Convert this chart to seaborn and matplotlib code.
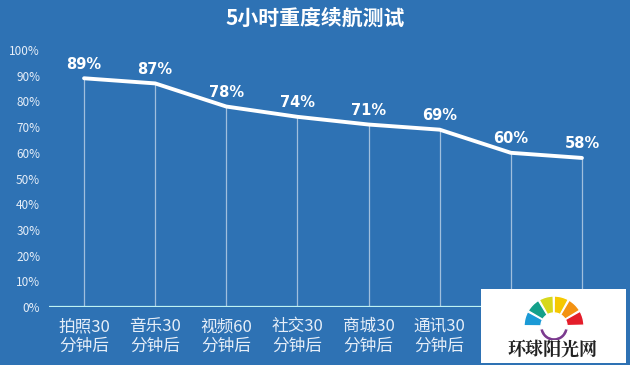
import numpy as np
import pandas as pd
import seaborn as sns
import matplotlib.pyplot as plt
from matplotlib.patches import Rectangle, Wedge

# the last two category names are hidden behind the watermark in the source
categories = ["拍照30\n分钟后", "音乐30\n分钟后", "视频60\n分钟后", "社交30\n分钟后",
              "商城30\n分钟后", "通讯30\n分钟后", "", ""]
battery = [89, 87, 78, 74, 71, 69, 60, 58]
yticks = [0, 10, 20, 30, 40, 50, 60, 70, 80, 90, 100]

bg = "#2e72b4"
sns.set_style("dark")
plt.rcParams['font.family'] = ['Noto Sans CJK SC', 'DejaVu Sans']

df = pd.DataFrame({"pos": np.arange(len(categories)), "battery": battery})

fig = plt.figure(figsize=(6.3, 3.65), dpi=100, facecolor=bg)
ax = fig.add_axes([48.5 / 630, 58 / 365, 569 / 630, 257 / 365])
ax.set_facecolor(bg)

# drop lines from points to the axis
ax.vlines(df["pos"], 0, df["battery"], color="white", alpha=0.55, lw=0.9, zorder=2)
sns.lineplot(data=df, x="pos", y="battery", ax=ax, color="white", lw=2.8, zorder=3)

for x, v in zip(df["pos"], battery):
    ax.text(x, v + 2.6, f"{v}%", color="white", fontsize=10.5, fontweight="bold",
            ha="center", va="bottom", family="DejaVu Sans")

ax.axhline(0, color="#bff3f3", lw=1.6, zorder=4)
ax.set_xlim(-0.5, 7.5)
ax.set_ylim(0, 100)
ax.set_yticks(yticks)
ax.set_yticklabels([f"{t}%" for t in yticks], color="#e6eef8", fontsize=8.5)
ax.set_xticks(df["pos"])
ax.set_xticklabels(categories, color="#e6eef8", fontsize=12, linespacing=1.2)
ax.tick_params(length=0, pad=6)
ax.tick_params(axis="x", pad=8)
ax.set_xlabel("")
ax.set_ylabel("")
ax.grid(False)
for s in ax.spines.values():
    s.set_visible(False)

fig.text(0.5, 1 - 18 / 365, "5小时重度续航测试", color="white", fontsize=15,
         fontweight="bold", ha="center", va="center")

# watermark box
fig.patches.append(Rectangle((481 / 630, 2 / 365), 145 / 630, 74 / 365, transform=fig.transFigure,
                             facecolor="white", edgecolor="none", zorder=10))
wax = fig.add_axes([524 / 630, 25 / 365, 60 / 630, 44 / 365], zorder=11)
wax.set_xlim(-30, 30)
wax.set_ylim(-14, 30)
wax.set_aspect("equal")
wax.axis("off")
cols = ["#1b9ad6", "#13a08a", "#d6d81d", "#f6c800", "#f39212", "#e41d2a"]
for i, c in enumerate(cols):
    a0 = 180 - i * 30
    wax.add_patch(Wedge((0, 0), 30, a0 - 28.5, a0 - 0.5, width=17, facecolor=c))
wax.add_patch(Wedge((0, -1), 14.5, 188, 352, width=4, facecolor="#7b3a8e"))
fig.text(553 / 630, 15 / 365, "环球阳光网", color="#222222", fontsize=13,
         fontweight="bold", ha="center", va="center", zorder=12,
         family=["Noto Serif CJK SC", "Noto Sans CJK SC"])

fig.savefig("out.png", dpi=100, facecolor=bg)
